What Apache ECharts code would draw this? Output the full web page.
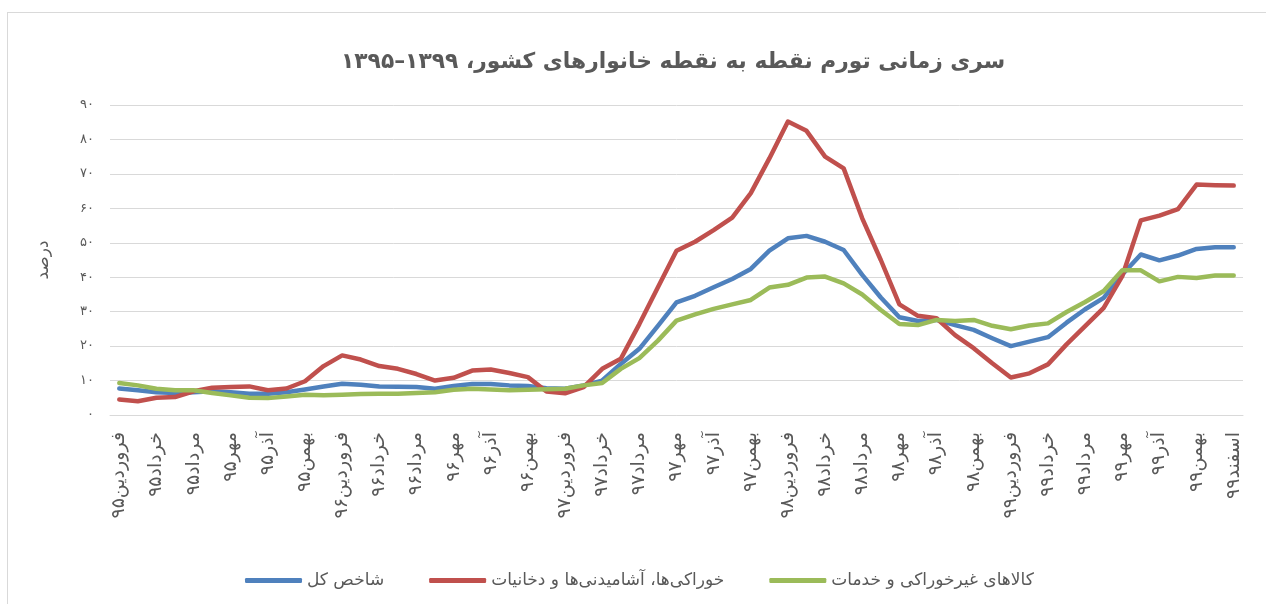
<!DOCTYPE html>
<html>
<head>
<meta charset="utf-8">
<script src="https://cdn.jsdelivr.net/npm/echarts@6/dist/echarts.min.js"></script>
<style>
html,body{margin:0;padding:0;background:#fff;overflow:hidden;}
#frame{position:absolute;left:7px;top:12px;width:1300px;height:700px;border:1px solid #d9d9d9;box-sizing:border-box;}
#chart{position:absolute;left:0;top:0;width:1266px;height:604px;}
</style>
</head>
<body>
<div id="frame"></div>
<div id="chart"></div>
<script>
var titleText = 'سری زمانی تورم نقطه به نقطه خانوارهای کشور، ۱۳۹۹–۱۳۹۵';
var yAxisName = 'درصد';
var seriesNames = ['شاخص کل', 'خوراکی‌ها، آشامیدنی‌ها و دخانیات', 'کالاهای غیرخوراکی و خدمات'];
var yTickLabels = ['۰','۱۰','۲۰','۳۰','۴۰','۵۰','۶۰','۷۰','۸۰','۹۰'];

var categories = [
 'فروردین۹۵','اردیبهشت۹۵','خرداد۹۵','تیر۹۵','مرداد۹۵','شهریور۹۵','مهر۹۵','آبان۹۵','آذر۹۵','دی۹۵','بهمن۹۵','اسفند۹۵',
 'فروردین۹۶','اردیبهشت۹۶','خرداد۹۶','تیر۹۶','مرداد۹۶','شهریور۹۶','مهر۹۶','آبان۹۶','آذر۹۶','دی۹۶','بهمن۹۶','اسفند۹۶',
 'فروردین۹۷','اردیبهشت۹۷','خرداد۹۷','تیر۹۷','مرداد۹۷','شهریور۹۷','مهر۹۷','آبان۹۷','آذر۹۷','دی۹۷','بهمن۹۷','اسفند۹۷',
 'فروردین۹۸','اردیبهشت۹۸','خرداد۹۸','تیر۹۸','مرداد۹۸','شهریور۹۸','مهر۹۸','آبان۹۸','آذر۹۸','دی۹۸','بهمن۹۸','اسفند۹۸',
 'فروردین۹۹','اردیبهشت۹۹','خرداد۹۹','تیر۹۹','مرداد۹۹','شهریور۹۹','مهر۹۹','آبان۹۹','آذر۹۹','دی۹۹','بهمن۹۹','اسفند۹۹',
 'اسفند۹۹'
];

var totalIndex = [7.7,7.2,6.6,6.4,6.6,6.9,6.6,6.2,6.2,6.6,7.4,8.3,
 9.1,8.8,8.3,8.2,8.1,7.6,8.4,9.0,9.0,8.6,8.4,7.8,
 7.6,8.6,10.0,14.8,19.2,25.9,32.7,34.6,37.1,39.5,42.4,47.7,
 51.3,52.0,50.3,47.9,40.7,34.1,28.4,27.3,27.6,26.1,24.7,22.3,
 20.0,21.3,22.6,26.8,30.7,34.0,40.8,46.6,44.9,46.3,48.2,48.7,
 48.7];

var foodIndex = [4.5,4.0,5.0,5.2,6.9,7.9,8.1,8.3,7.2,7.7,9.8,14.2,
 17.3,16.1,14.2,13.4,11.9,10.0,10.8,12.9,13.2,12.2,11.0,6.8,
 6.3,8.1,13.4,16.3,26.4,37.1,47.7,50.3,53.7,57.3,64.4,74.5,
 85.2,82.5,75.0,71.6,57.1,45.0,32.1,28.8,28.1,23.2,19.4,15.0,
 10.9,12.1,14.7,20.5,25.8,31.1,40.3,56.5,57.9,59.8,66.9,66.7,
 66.6];

var nonFoodIndex = [9.3,8.6,7.6,7.2,7.2,6.4,5.7,5.0,4.9,5.4,5.9,5.7,
 5.9,6.1,6.2,6.2,6.4,6.6,7.3,7.6,7.4,7.2,7.3,7.5,
 7.6,8.6,9.3,13.4,16.5,21.6,27.4,29.2,30.8,32.1,33.4,37.0,
 37.8,39.9,40.2,38.2,35.0,30.5,26.4,26.1,27.6,27.3,27.6,25.9,
 24.9,26.0,26.6,29.9,32.8,36.0,42.0,42.0,38.8,40.1,39.8,40.5,
 40.5];

var FONT = 'DejaVu Sans';
var TXT = '#595959';
var chart = echarts.init(document.getElementById('chart'), null, {renderer: 'canvas'});

function lineSeries(name, data, color) {
  return {
    name: name, type: 'line', data: data, symbol: 'none', smooth: false,
    lineStyle: {color: color, width: 4.5, cap: 'round', join: 'round'},
    itemStyle: {color: color},
    emphasis: {disabled: true}
  };
}

chart.setOption({
  animation: false,
  backgroundColor: 'transparent',
  textStyle: {fontFamily: FONT},
  title: {
    text: titleText, left: 336, top: 46,
    textStyle: {fontFamily: FONT, fontSize: 21.8, fontWeight: 'bold', color: TXT}
  },
  legend: {
    left: 240, top: 567,
    itemWidth: 57, itemHeight: 5, itemGap: 45,
    icon: 'roundRect',
    textStyle: {fontFamily: FONT, fontSize: 17, color: TXT},
    data: seriesNames
  },
  grid: {left: 110, right: 23, top: 105, bottom: 189, containLabel: false},
  xAxis: {
    type: 'category', data: categories, boundaryGap: true,
    axisLine: {lineStyle: {color: '#d9d9d9', width: 1}},
    axisTick: {show: false},
    axisLabel: {interval: 1, rotate: 90, margin: 17, fontFamily: FONT, fontSize: 19, color: TXT}
  },
  yAxis: {
    type: 'value', min: 0, max: 90, interval: 10,
    name: yAxisName, nameLocation: 'middle', nameGap: 58, nameRotate: 90,
    nameTextStyle: {fontFamily: FONT, fontSize: 17, color: TXT},
    axisLine: {show: false}, axisTick: {show: false},
    splitLine: {lineStyle: {color: '#d9d9d9', width: 1}},
    axisLabel: {
      margin: 16, fontFamily: FONT, fontSize: 13, color: TXT,
      formatter: function (v) { return yTickLabels[Math.round(v / 10)]; }
    }
  },
  series: [
    lineSeries(seriesNames[0], totalIndex, '#4f81bd'),
    lineSeries(seriesNames[1], foodIndex, '#c0504d'),
    lineSeries(seriesNames[2], nonFoodIndex, '#9bbb59')
  ]
});
</script>
</body>
</html>
